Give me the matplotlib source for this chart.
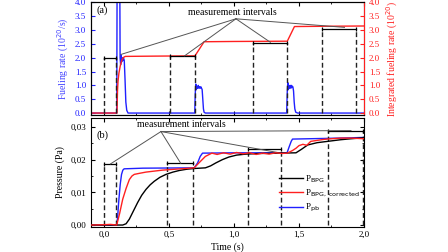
import matplotlib
matplotlib.use("Agg")
import matplotlib.pyplot as plt

plt.rcParams['font.family'] = ['Liberation Serif', 'DejaVu Serif']
plt.rcParams['font.size'] = 6.5
plt.rcParams['xtick.direction'] = 'in'
plt.rcParams['ytick.direction'] = 'in'
plt.rcParams['xtick.major.size'] = 3
plt.rcParams['ytick.major.size'] = 3
plt.rcParams['xtick.minor.size'] = 1.6
plt.rcParams['ytick.minor.size'] = 1.6
plt.rcParams['xtick.major.pad'] = 2.5
plt.rcParams['axes.linewidth'] = 0.8

# (a) fueling rate and integrated fueling rate
t_fuel = [-0.1, 0.098, 0.102, 0.106, 0.110, 0.115, 0.120, 0.124, 0.128, 0.132, 0.136,
          0.140, 0.145, 0.150, 0.156, 0.162, 0.168, 0.175, 0.185,
          0.698, 0.702, 0.706, 0.710, 0.715, 0.720, 0.725, 0.730, 0.735, 0.740, 0.745,
          0.750, 0.755, 0.760, 0.765, 0.770, 0.780,
          1.405, 1.410, 1.414, 1.418, 1.423, 1.428, 1.433, 1.438, 1.443, 1.448, 1.453,
          1.458, 1.463, 1.468, 1.475, 1.490, 2.0]
fuel_rate = [0, 0, 6.5, 5.0, 7.0, 6.0, 6.5, 2.0, 1.75, 2.1, 1.85,
             2.0, 1.9, 2.0, 1.9, 1.2, 0.4, 0.1, 0.0,
             0.0, 0.7, 1.05, 0.85, 0.95, 0.9, 1.0, 0.9, 0.95, 0.9, 0.95,
             0.9, 0.85, 0.5, 0.15, 0.03, 0.0,
             0.0, 0.8, 1.1, 0.85, 1.0, 0.9, 1.0, 0.9, 1.0, 0.95, 0.95,
             0.8, 0.4, 0.15, 0.03, 0.0, 0.0]

t_int = [-0.1, 0.100, 0.104, 0.108, 0.115, 0.125, 0.135, 0.145, 0.155, 0.165, 0.4,
         0.700, 0.770, 1.0, 1.410, 1.465, 1.7, 2.0]
fuel_int = [0, 0, 0.8, 1.15, 1.45, 1.7, 1.88, 1.98, 2.03, 2.05, 2.06,
            2.07, 2.58, 2.59, 2.60, 3.13, 3.14, 3.15]

# (b) pressures
t_bpg = [-0.1, 0.144, 0.17, 0.195, 0.225, 0.259, 0.29, 0.323, 0.355, 0.387, 0.43, 0.477,
         0.53, 0.58, 0.64, 0.694, 0.78, 0.82, 0.86, 0.91, 0.96, 1.02, 1.09, 1.2, 1.35,
         1.477, 1.52, 1.567, 1.64, 1.72, 1.82, 1.9, 2.0]
p_bpg = [0, 0, 0.0004, 0.0018, 0.0042, 0.0069, 0.0091, 0.0109, 0.0123, 0.0134, 0.0146, 0.0155,
         0.0162, 0.0167, 0.0171, 0.0173, 0.0175, 0.0181, 0.0190, 0.0200, 0.0208, 0.0214, 0.0217,
         0.0219, 0.0220, 0.0221, 0.0232, 0.0245, 0.0252, 0.0256, 0.0261, 0.0264, 0.0267]

t_corr = [-0.1, 0.0, 0.05, 0.098, 0.12, 0.144, 0.17, 0.195, 0.215, 0.233, 0.27, 0.323, 0.45,
          0.694, 0.73, 0.78, 0.83, 0.87, 0.92, 0.97, 1.02, 1.07, 1.12, 1.17, 1.22, 1.27,
          1.32, 1.37, 1.41, 1.45, 1.477, 1.5, 1.53, 1.56, 1.59, 1.64, 1.69, 1.75, 1.82, 1.9, 2.0]
p_corr = [0, 0.0001, 0.0002, 0, 0.0035, 0.0079, 0.0112, 0.0139, 0.0150, 0.0155, 0.0158, 0.0162,
          0.0168, 0.0175, 0.0190, 0.0210, 0.0220, 0.0216, 0.0221, 0.0217, 0.0222, 0.0218,
          0.0221, 0.0216, 0.0220, 0.0217, 0.0221, 0.0219, 0.0220, 0.0228, 0.0235, 0.0243,
          0.0247, 0.0244, 0.0256, 0.0259, 0.0262, 0.0264, 0.0266, 0.0266, 0.0264]

t_pb = [-0.1, 0.098, 0.105, 0.112, 0.117, 0.125, 0.135, 0.145, 0.155, 0.3, 0.694, 0.72,
        0.74, 0.758, 1.0, 1.408, 1.425, 1.44, 1.45, 1.7, 2.0]
p_pb = [0, 0, 0.0025, 0.0065, 0.0089, 0.0125, 0.0155, 0.0168, 0.0172, 0.0174, 0.0175, 0.0190,
        0.0210, 0.0220, 0.0221, 0.0221, 0.0240, 0.0256, 0.0263, 0.0265, 0.0268]

# measurement intervals
top_start = [0.0, 0.51, 1.15, 1.68]
top_end = [0.09, 0.70, 1.41, 1.94]
top_level = [2.0, 2.05, 2.52, 3.04]
top_point = [(0.13, 2.12), (0.62, 2.07), (1.28, 2.56), (1.85, 3.10)]

bot_start = [0.0, 0.485, 1.105, 1.726]
bot_end = [0.095, 0.682, 1.362, 1.995]
bot_level = [0.0187, 0.0189, 0.0232, 0.0289]
bot_point = [(0.05, 0.0187), (0.59, 0.0189), (1.35, 0.0221), (1.90, 0.0289)]

blue = '#2020ff'
red = '#ff2020'
grey = '#555555'

fig = plt.figure(figsize=(4.48, 2.52), dpi=100)
ax1 = fig.add_axes([0.2031, 0.5437, 0.6094, 0.4464])
ax2 = ax1.twinx()
ax3 = fig.add_axes([0.2031, 0.0992, 0.6094, 0.4345])

# panel (a)
ax1.plot(t_fuel, fuel_rate, color=blue, lw=1.0, zorder=3)
ax2.plot(t_int, fuel_int, color=red, lw=1.0, zorder=2)
for s, e, lv in zip(top_start, top_end, top_level):
    ax2.plot([s, s], [0, lv], color='#222222', ls=(0, (3.5, 2)), lw=1.0)
    ax2.plot([e, e], [0, lv], color='#222222', ls=(0, (3.5, 2)), lw=1.0)
    ax2.plot([s, e], [lv, lv], color='black', lw=0.9, marker='|', ms=3.5, mew=0.9)
for px, py in top_point:
    ax2.plot([1.015, px], [3.41, py], color=grey, lw=0.7)
ax2.text(0.985, 3.64, 'measurement intervals', ha='center', va='center', fontsize=7)
ax2.text(0.02, 0.93, '(a)', transform=ax1.transAxes, fontsize=7.5, va='center')

ax1.set_xlim(-0.1, 2.0)
ax1.set_ylim(-0.07, 4.0)
ax2.set_ylim(-0.07, 4.0)
ax1.set_yticks([0, 0.5, 1.0, 1.5, 2.0, 2.5, 3.0, 3.5, 4.0])
ax2.set_yticks([0, 0.5, 1.0, 1.5, 2.0, 2.5, 3.0, 3.5, 4.0])
ax1.set_xticks([0, 0.5, 1.0, 1.5, 2.0])
ax1.set_xticks([0.25, 0.75, 1.25, 1.75], minor=True)
ax1.tick_params(axis='x', which='both', top=True, labelbottom=False)
ax1.tick_params(axis='y', colors=blue, labelsize=6.5)
ax2.tick_params(axis='y', colors=red, labelsize=6.5)
ax1.yaxis.set_major_formatter(matplotlib.ticker.FormatStrFormatter('%.1f'))
ax2.yaxis.set_major_formatter(matplotlib.ticker.FormatStrFormatter('%.1f'))
ax1.set_ylabel('Fueling rate (10$^{20}$/s)', color='#4444ff', fontsize=7, labelpad=3)
ax2.set_ylabel('Integrated fueling rate (10$^{20}$)', color=red, fontsize=7, labelpad=3)
ax2.spines['right'].set_color(red)
ax2.spines['left'].set_color('black')

# panel (b)
ax3.plot(t_bpg, p_bpg, color='black', lw=1.0, label='P$_{\\mathrm{BPG}}$', zorder=3)
ax3.plot(t_corr, p_corr, color=red, lw=1.0, label='P$_{\\mathrm{BPG,\\ corrected}}$', zorder=3)
ax3.plot(t_pb, p_pb, color=blue, lw=1.0, label='P$_{\\mathrm{pb}}$', zorder=2)
for s, e, lv in zip(bot_start, bot_end, bot_level):
    ax3.plot([s, s], [0, lv], color='#222222', ls=(0, (3.5, 2)), lw=1.0)
    ax3.plot([e, e], [0, lv], color='#222222', ls=(0, (3.5, 2)), lw=1.0)
    ax3.plot([s, e], [lv, lv], color='black', lw=0.9, marker='|', ms=3.5, mew=0.9)
for px, py in bot_point:
    ax3.plot([0.438, px], [0.0286, py], color=grey, lw=0.7)
ax3.text(0.592, 0.0307, 'measurement intervals', ha='center', va='center', fontsize=7)
ax3.text(0.02, 0.835, '(b)', transform=ax3.transAxes, fontsize=7.5, va='center')

ax3.set_xlim(-0.1, 2.0)
ax3.set_ylim(-0.0006, 0.0329)
ax3.set_xticks([0, 0.5, 1.0, 1.5, 2.0])
ax3.set_xticks([0.25, 0.75, 1.25, 1.75], minor=True)
ax3.set_xticklabels(['0,0', '0,5', '1,0', '1,5', '2,0'])
ax3.set_yticks([0, 0.01, 0.02, 0.03])
ax3.set_yticks([0.005, 0.015, 0.025], minor=True)
ax3.set_yticklabels(['0,00', '0,01', '0,02', '0,03'])
ax3.tick_params(which='both', top=True, right=True, labelsize=6.5)
ax3.set_xlabel('Time (s)', fontsize=7, labelpad=2.5)
ax3.set_ylabel('Pressure (Pa)', fontsize=7)
ax3.legend(loc='lower left', bbox_to_anchor=(0.66, 0.04), frameon=False, fontsize=6.5,
           handlelength=2.6, handletextpad=0.3, labelspacing=0.35)

fig.savefig('out.png', dpi=100)
